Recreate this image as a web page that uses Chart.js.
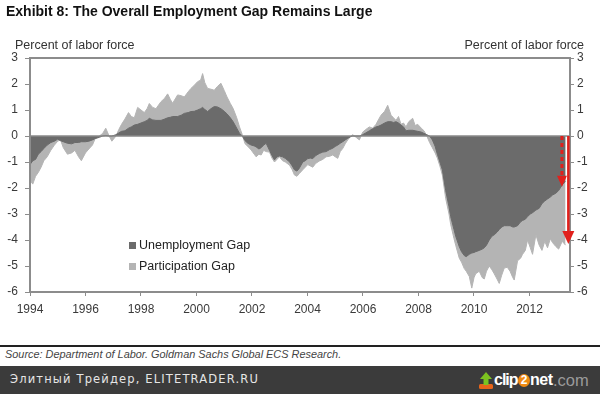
<!DOCTYPE html>
<html><head><meta charset="utf-8">
<script src="https://cdn.jsdelivr.net/npm/chart.js@4.4.1/dist/chart.umd.min.js"></script>
<style>
html,body{margin:0;padding:0;background:#fff;width:600px;height:394px;overflow:hidden;}
body{position:relative;font-family:"Liberation Sans",Arial,sans-serif;}
#c{position:absolute;left:0;top:0;}
.t{position:absolute;white-space:nowrap;line-height:1;}
#title{left:6px;top:4px;font-size:14px;font-weight:bold;color:#111;}
#ylab{left:15px;top:39px;font-size:12.5px;color:#333;}
#y2lab{right:16px;top:39px;font-size:12.5px;color:#333;}
.lg{position:absolute;font-size:12.5px;color:#222;line-height:1;white-space:nowrap;}
.sq{position:absolute;width:7px;height:7px;}
#rule{position:absolute;left:0;top:345px;width:600px;height:1.5px;background:#222;}
#src{left:5px;top:349px;font-size:10.9px;font-style:italic;color:#444;}
#band{position:absolute;left:0;top:366px;width:600px;height:28px;background:#3b3b3b;}
#foot{left:10px;top:374px;font-family:"DejaVu Sans",sans-serif;font-size:11.5px;letter-spacing:1.15px;color:#e6e6e6;}
#logo{position:absolute;left:479px;top:370px;height:22px;white-space:nowrap;font-family:"Liberation Sans",Arial,sans-serif;}
#logo .c{position:absolute;left:15px;top:2px;font-size:16px;font-weight:bold;color:#fff;letter-spacing:-1px;line-height:1;}
#logo .two{position:absolute;left:39px;top:4px;width:12px;height:13px;border-radius:50%;background:#f08a12;color:#fff;font-size:12px;font-weight:bold;text-align:center;line-height:13px;}
#logo .n{position:absolute;left:51px;top:2px;font-size:16px;font-weight:bold;color:#fff;line-height:1;letter-spacing:-0.5px;}
#logo .com{position:absolute;left:74px;top:2px;font-size:16.5px;color:#9a9a9a;line-height:1;}
</style></head>
<body>
<canvas id="c" width="600" height="340"></canvas>
<div class="t" id="title">Exhibit 8: The Overall Employment Gap Remains Large</div>
<div class="t" id="ylab">Percent of labor force</div>
<div class="t" id="y2lab">Percent of labor force</div>
<div class="sq" style="left:129px;top:242px;background:#6b6b6b"></div>
<div class="lg" style="left:139px;top:239px">Unemployment Gap</div>
<div class="sq" style="left:129px;top:263px;background:#b4b4b4"></div>
<div class="lg" style="left:139px;top:260px">Participation Gap</div>
<div id="rule"></div>
<div class="t" id="src">Source: Department of Labor. Goldman Sachs Global ECS Research.</div>
<div id="band"></div>
<div class="t" id="foot">Элитный Трейдер, ELITETRADER.RU</div>
<div id="logo">
<svg width="14" height="18" style="position:absolute;left:0;top:2px" viewBox="0 0 14 18">
<rect x="0" y="12" width="14" height="5" rx="1.5" fill="#e8641a"/>
<polygon points="7,0 13,7 9.5,7 9.5,13 4.5,13 4.5,7 1,7" fill="#7cc320"/>
</svg>
<span class="c">clip</span><span class="two">2</span><span class="n">net</span><span class="com">.com</span>
</div>
<script>
// ---- data (decimal years) ----
const years = [
1994.00,1994.10,1994.20,1994.30,1994.40,1994.50,1994.62,1994.75,1994.88,1995.00,
1995.10,1995.20,1995.35,1995.50,1995.62,1995.75,1995.85,1996.00,1996.12,1996.25,
1996.35,1996.50,1996.62,1996.73,1996.85,1996.95,1997.10,1997.20,1997.30,1997.42,
1997.55,1997.65,1997.76,1997.88,1998.00,1998.12,1998.22,1998.30,1998.42,1998.54,
1998.72,1998.85,1998.96,1999.06,1999.14,1999.32,1999.45,1999.56,1999.70,1999.80,
1999.92,2000.04,2000.15,2000.22,2000.30,2000.40,2000.52,2000.64,2000.75,2000.88,
2001.00,2001.10,2001.22,2001.32,2001.45,2001.55,2001.65,2001.75,2001.85,2001.97,
2002.08,2002.15,2002.25,2002.33,2002.42,2002.51,2002.63,2002.72,2002.81,2002.90,
2002.99,2003.10,2003.20,2003.35,2003.45,2003.53,2003.62,2003.70,2003.83,2003.92,
2004.01,2004.10,2004.19,2004.30,2004.43,2004.55,2004.67,2004.80,2004.91,2005.00,
2005.09,2005.18,2005.27,2005.36,2005.45,2005.55,2005.63,2005.75,2005.87,2005.99,
2006.10,2006.23,2006.35,2006.47,2006.57,2006.65,2006.78,2006.89,2007.01,2007.10,
2007.19,2007.28,2007.37,2007.46,2007.55,2007.65,2007.79,2007.88,2007.97,2008.10,
2008.20,2008.30,2008.40,2008.50,2008.60,2008.68,2008.77,2008.86,2008.98,2009.10,
2009.16,2009.28,2009.34,2009.47,2009.55,2009.65,2009.72,2009.83,2009.92,2010.00,
2010.06,2010.19,2010.30,2010.37,2010.45,2010.55,2010.65,2010.73,2010.83,2010.91,
2011.00,2011.09,2011.20,2011.30,2011.40,2011.45,2011.57,2011.68,2011.75,2011.85,
2011.93,2012.03,2012.11,2012.23,2012.35,2012.45,2012.55,2012.65,2012.75,2012.83,
2012.95,2013.05,2013.18,2013.30
];
const unemploymentGap = [
-1.10,-0.95,-0.90,-0.70,-0.60,-0.48,-0.35,-0.25,-0.20,-0.12,
-0.18,-0.22,-0.28,-0.30,-0.25,-0.25,-0.22,-0.22,-0.20,-0.15,
-0.10,-0.05,0.00,0.02,0.00,0.00,0.05,0.12,0.18,0.20,
0.30,0.35,0.42,0.45,0.50,0.55,0.60,0.68,0.62,0.60,
0.60,0.65,0.70,0.72,0.75,0.75,0.80,0.87,0.90,0.94,
0.95,1.00,1.05,1.10,1.02,0.94,1.05,1.13,1.12,1.05,
0.95,0.85,0.70,0.55,0.30,0.10,0.00,-0.18,-0.28,-0.35,
-0.38,-0.42,-0.50,-0.45,-0.35,-0.28,-0.55,-0.75,-0.92,-0.80,
-0.77,-0.80,-0.86,-0.99,-1.15,-1.30,-1.35,-1.25,-1.00,-0.95,
-0.87,-0.85,-0.87,-0.75,-0.67,-0.62,-0.60,-0.52,-0.47,-0.40,
-0.35,-0.28,-0.22,-0.15,-0.09,-0.03,0.00,0.00,0.00,0.05,
0.12,0.20,0.28,0.35,0.38,0.42,0.50,0.55,0.55,0.52,
0.55,0.50,0.42,0.35,0.20,0.22,0.22,0.20,0.18,0.15,
0.10,0.05,0.00,-0.15,-0.40,-0.70,-1.00,-1.30,-2.10,-2.72,
-3.10,-3.60,-3.85,-4.26,-4.45,-4.60,-4.64,-4.55,-4.50,-4.48,
-4.45,-4.40,-4.35,-4.30,-4.20,-4.00,-3.85,-3.80,-3.70,-3.60,
-3.50,-3.45,-3.45,-3.45,-3.50,-3.50,-3.45,-3.30,-3.25,-3.20,
-3.10,-3.00,-2.95,-2.85,-2.78,-2.60,-2.50,-2.42,-2.35,-2.27,
-2.20,-2.10,-1.88,-1.75
];
// overall gap = unemployment gap + participation gap
const overallGap = [
-1.70,-1.85,-1.55,-1.40,-1.20,-0.95,-0.80,-0.55,-0.35,-0.20,
-0.15,-0.45,-0.70,-0.65,-0.55,-0.80,-0.95,-0.65,-0.50,-0.35,
-0.10,0.00,0.10,0.30,0.00,-0.20,0.00,0.25,0.45,0.65,
0.90,0.75,0.70,1.10,1.00,0.90,1.05,1.25,1.10,1.05,
1.32,1.45,1.62,1.40,1.26,1.58,1.55,1.50,1.70,1.83,
1.95,2.09,2.15,2.40,2.05,1.83,1.80,1.76,1.90,2.03,
1.75,1.50,1.25,1.06,0.70,0.35,0.05,-0.30,-0.40,-0.54,
-0.70,-0.80,-0.70,-0.73,-0.55,-0.60,-0.62,-0.85,-1.00,-0.90,
-0.80,-0.95,-1.00,-1.12,-1.30,-1.50,-1.55,-1.45,-1.30,-1.20,
-1.10,-1.15,-1.20,-1.05,-0.96,-0.90,-0.80,-0.78,-0.73,-0.80,
-0.86,-0.60,-0.48,-0.30,-0.15,-0.02,0.05,-0.05,-0.15,0.15,
0.25,0.35,0.30,0.45,0.65,0.80,0.95,1.18,0.80,0.70,
0.60,0.75,0.45,0.50,0.35,0.55,0.68,0.40,0.45,0.30,
0.20,0.00,-0.25,-0.45,-0.65,-0.85,-1.15,-1.50,-2.40,-3.00,
-3.40,-3.95,-4.20,-4.70,-4.85,-5.10,-5.20,-5.40,-5.85,-5.45,
-5.30,-5.20,-5.45,-5.50,-5.20,-5.00,-5.15,-5.30,-5.50,-5.67,
-5.35,-5.08,-5.05,-5.20,-5.45,-5.54,-4.80,-4.70,-4.55,-4.40,
-4.00,-4.30,-4.55,-3.80,-4.20,-4.40,-4.05,-4.30,-3.95,-4.10,
-4.25,-4.35,-4.05,-4.20
];
const xTickYears = [1994,1996,1998,2000,2002,2004,2006,2008,2010,2012];
const yTickValues = [3,2,1,0,-1,-2,-3,-4,-5,-6];
// red arrows: start/end values (percent) at given dates
const arrowYears = [2013.17, 2013.40];
const arrowStart = [0, 0];
const arrowEnd = [-1.95, -4.15];

const FONT = "'Liberation Sans', Arial, sans-serif";
const AXIS = '#8c8c8c';
const pts = arr => years.map((yr,i)=>({x:yr,y:arr[i]}));

const overlay = {
  id:'overlay',
  afterDatasetsDraw(chart){
    const {ctx, chartArea:a, scales:{x,y}} = chart;
    ctx.save();
    const y0 = y.getPixelForValue(0);
    ctx.strokeStyle = '#888'; ctx.lineWidth = 1.5;
    ctx.beginPath(); ctx.moveTo(a.left,y0); ctx.lineTo(a.right,y0); ctx.stroke();
    ctx.strokeStyle = AXIS; ctx.lineWidth = 2;
    ctx.strokeRect(a.left, a.top, a.right-a.left, a.bottom-a.top);
    arrowYears.forEach((yr,i)=>{
      const px = x.getPixelForValue(yr);
      const ys = y.getPixelForValue(arrowStart[i]);
      const ye = y.getPixelForValue(arrowEnd[i]);
      const dashed = i===0;
      const head = dashed ? 11 : 13, hw = dashed ? 5 : 6;
      ctx.strokeStyle = '#e1201c'; ctx.fillStyle = '#e1201c';
      ctx.lineWidth = dashed ? 3 : 2.5;
      ctx.setLineDash(dashed ? [4,3] : []);
      ctx.beginPath(); ctx.moveTo(px, ys); ctx.lineTo(px, ye-head+1); ctx.stroke();
      ctx.setLineDash([]);
      ctx.beginPath(); ctx.moveTo(px-hw, ye-head); ctx.lineTo(px+hw, ye-head); ctx.lineTo(px, ye); ctx.closePath(); ctx.fill();
    });
    ctx.restore();
  }
};

const yAxis = (pos, pad, tl) => ({
  position: pos, min:-6, max:3,
  afterBuildTicks(s){ s.ticks = yTickValues.map(v=>({value:v})); },
  afterFit(s){ s.width = 30; },
  ticks:{ color:'#3a3a3a', font:{family:FONT, size:12}, padding:pad, callback:v=>String(v) },
  grid:{ display:true, drawOnChartArea:false, drawTicks:true, tickLength:tl, color:AXIS, lineWidth:1 },
  border:{ display:false }
});

new Chart(document.getElementById('c'), {
  type:'line',
  data:{ datasets:[
    { label:'Unemployment Gap', data:pts(unemploymentGap), backgroundColor:'#6b6b6b', borderColor:'#6b6b6b', borderWidth:1, pointRadius:0, fill:'origin', tension:0, order:0 },
    { label:'Overall Gap (incl. Participation Gap)', data:pts(overallGap), backgroundColor:'#b4b4b4', borderColor:'#b4b4b4', borderWidth:1, pointRadius:0, fill:'origin', tension:0, order:1 }
  ]},
  options:{
    responsive:false, animation:false, devicePixelRatio:1,
    layout:{ padding:{ top:58, left:0, right:0, bottom:0 } },
    plugins:{ legend:{display:false}, tooltip:{enabled:false}, title:{display:false} },
    scales:{
      x:{ type:'linear', position:'bottom', min:1994, max:2013.46,
        afterBuildTicks(s){ s.ticks = xTickYears.map(v=>({value:v})); },
        afterFit(s){ s.height = 48; },
        ticks:{ color:'#3a3a3a', font:{family:FONT, size:12}, padding:6, maxRotation:0, autoSkip:false, callback:v=>String(v) },
        grid:{ display:true, drawOnChartArea:false, drawTicks:true, tickLength:4, color:AXIS, lineWidth:1 },
        border:{ display:false }
      },
      y: yAxis('left', 7, 5),
      y2: yAxis('right', 3, 4)
    }
  },
  plugins:[overlay]
});
</script>
</body></html>
